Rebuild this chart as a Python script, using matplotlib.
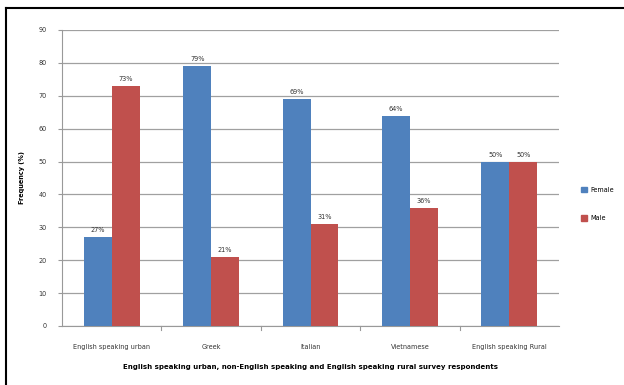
import matplotlib
matplotlib.use("Agg")
import matplotlib.pyplot as plt
import numpy as np
from matplotlib.lines import Line2D
from matplotlib.patches import Patch

categories = ["English speaking urban", "Greek", "Italian", "Vietnamese", "English speaking Rural"]
female = [27, 79, 69, 64, 50]
male = [73, 21, 31, 36, 50]
yticks = [0, 10, 20, 30, 40, 50, 60, 70, 80, 90]

blue = "#4F81BD"
red = "#C0504D"

fig = plt.figure(figsize=(6.24, 3.85), dpi=100)
ax = fig.add_axes([62/624, 1-326/385, (559-62)/624, (326-30)/385])

x = np.arange(len(categories))
w = 0.28
b1 = ax.bar(x - w/2, female, w, color=blue, label="Female", zorder=3)
b2 = ax.bar(x + w/2, male, w, color=red, label="Male", zorder=3)

for rects, vals in ((b1, female), (b2, male)):
    for r, v in zip(rects, vals):
        ax.text(r.get_x() + r.get_width()/2, v + 1.2, f"{v}%", ha="center", va="bottom",
                fontsize=4.7, color="#333333")

ax.set_xlim(-0.5, len(categories) - 0.5)
ax.set_ylim(0, 90)
ax.set_yticks(yticks)
ax.set_yticklabels([str(t) for t in yticks], fontsize=4.7, color="#333333")
ax.set_xticks(x)
ax.set_xticklabels(categories, fontsize=4.7, color="#333333")
ax.tick_params(axis="x", length=0, pad=13)
ax.tick_params(axis="y", length=3, color="#999999", pad=8)
ax.yaxis.grid(True, color="#a0a0a0", lw=0.9, zorder=0)
ax.set_axisbelow(True)
for s in ["top", "right"]:
    ax.spines[s].set_visible(False)
ax.spines["left"].set_color("#999999")
ax.spines["bottom"].set_color("#999999")
# category boundary ticks
for b in np.arange(0.5, len(categories) - 0.5, 1.0):
    ax.plot([b, b], [0, -1.2], color="#999999", lw=0.8, clip_on=False)

ax.set_ylabel("Frequency (%)", fontsize=4.7, fontweight="bold", labelpad=10)
ax.set_xlabel("English speaking urban, non-English speaking and English speaking rural survey respondents",
              fontsize=5, fontweight="bold", labelpad=10)

leg = fig.legend(handles=[Patch(color=blue, label="Female"), Patch(color=red, label="Male")],
                 loc="upper left", bbox_to_anchor=(575/624, 1-181/385), frameon=False,
                 fontsize=4.7, handlelength=0.9, handleheight=0.9, labelspacing=3.4,
                 handletextpad=0.6)

# figure border (top and left lines)
fig.add_artist(Line2D([6/624, 1], [1-8/385, 1-8/385], color="black", lw=1.5, transform=fig.transFigure))
fig.add_artist(Line2D([6/624, 6/624], [0, 1-8/385], color="black", lw=1.5, transform=fig.transFigure))

fig.savefig("out.png", dpi=100)
